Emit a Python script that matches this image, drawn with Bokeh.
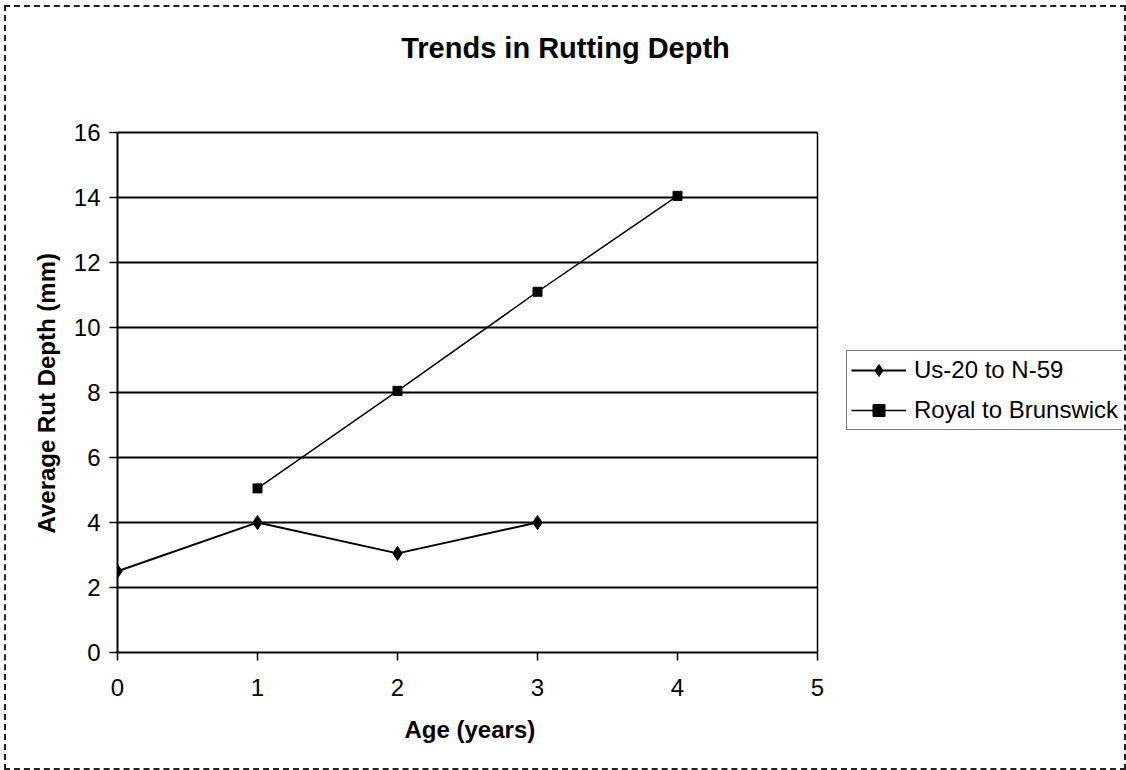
from bokeh.plotting import figure
from bokeh.models import (Range1d, FixedTicker, Legend, LegendItem, Label, Title,
                          InlineStyleSheet)
from bokeh.embed import file_html
from bokeh.resources import INLINE

# ---- data ----
title_text = "Trends in Rutting Depth"
x_label = "Age (years)"
y_label = "Average Rut Depth (mm)"

us_name = "Us-20 to N-59"
us_age = [0, 1, 2, 3]
us_depth = [2.5, 4.0, 3.05, 4.0]

royal_name = "Royal to Brunswick"
royal_age = [1, 2, 3, 4]
royal_depth = [5.05, 8.05, 11.1, 14.05]

x_ticks = [0, 1, 2, 3, 4, 5]
y_ticks = [0, 2, 4, 6, 8, 10, 12, 14, 16]

FONT = "Liberation Sans"

# plot area spans x 0..5, y 0..16; the frame is extended (same scale) to hold
# the title above and the legend at the right without clipping.
X_MIN, X_MAX = x_ticks[0], x_ticks[-1]
Y_MIN, Y_MAX = y_ticks[0], y_ticks[-1]
X_END = X_MAX + 305 / 140.0
Y_END = 642 / 32.5

p = figure(width=1126, height=770, output_backend="svg", toolbar_location=None,
           x_range=Range1d(X_MIN, X_END), y_range=Range1d(Y_MIN, Y_END),
           min_border_left=117, min_border_right=4,
           min_border_top=10, min_border_bottom=118)
p.background_fill_color = "white"
p.border_fill_color = "white"
p.outline_line_color = None
p.stylesheets = [InlineStyleSheet(css="""
:host { position: relative; }
:host::after {
  content: ""; position: absolute; left: 4px; top: 5px; right: 0px; bottom: 0px;
  border: 2px dashed #222; pointer-events: none; z-index: 1000;
}
""")]

# axes
for ax in (p.xaxis, p.yaxis):
    ax.axis_line_color = "black"
    ax.axis_line_width = 2
    ax.major_tick_line_color = "black"
    ax.major_tick_line_width = 1.5
    ax.major_tick_in = 0
    ax.major_tick_out = 8
    ax.minor_tick_line_color = None
    ax.major_label_text_font = FONT
    ax.major_label_text_font_size = "24px"
    ax.major_label_text_color = "black"

p.xaxis.ticker = FixedTicker(ticks=x_ticks)
p.yaxis.ticker = FixedTicker(ticks=y_ticks)
p.xaxis.bounds = (X_MIN, X_MAX)
p.yaxis.bounds = (Y_MIN, Y_MAX)
p.xaxis.major_label_standoff = 18
p.yaxis.major_label_standoff = 9

# axis titles, centred on the 0..5 / 0..16 plot area
xt = Title(text=x_label, align="left", offset=287, vertical_align="top",
           standoff=34, text_font=FONT, text_font_size="24px",
           text_font_style="bold", text_color="black")
p.add_layout(xt, "below")
yt = Title(text=y_label, align="left", offset=119, vertical_align="bottom",
           standoff=22, text_font=FONT, text_font_size="24px",
           text_font_style="bold", text_color="black")
p.add_layout(yt, "left")

p.xgrid.grid_line_color = None
p.ygrid.grid_line_color = None

# horizontal gridlines and right border of the plot area
grid_y = y_ticks[1:]
p.segment(x0=[X_MIN] * len(grid_y), x1=[X_MAX] * len(grid_y), y0=grid_y, y1=grid_y,
          line_color="black", line_width=2)
p.segment(x0=[X_MAX], x1=[X_MAX], y0=[Y_MIN], y1=[Y_MAX],
          line_color="black", line_width=1.5)

# series
l1 = p.line(us_age, us_depth, line_color="black", line_width=2)
m1 = p.scatter(us_age, us_depth, marker="diamond", size=14,
               fill_color="black", line_color="black")
l2 = p.line(royal_age, royal_depth, line_color="black", line_width=1.5)
m2 = p.scatter(royal_age, royal_depth, marker="square", size=9,
               fill_color="black", line_color="black")

legend = Legend(items=[LegendItem(label=us_name, renderers=[l1, m1]),
                       LegendItem(label=royal_name, renderers=[l2, m2])],
                location=(729, 222), orientation="vertical")
legend.label_text_font = FONT
legend.label_text_font_size = "24px"
legend.label_text_color = "black"
legend.glyph_width = 55
legend.glyph_height = 30
legend.label_height = 30
legend.label_standoff = 8
legend.spacing = 10
legend.padding = 4
legend.margin = 0
legend.border_line_color = "black"
legend.border_line_width = 1.5
legend.background_fill_color = "white"
legend.background_fill_alpha = 1
p.add_layout(legend, "center")

title = Label(x=3.2, y=18.585, text=title_text, text_align="center",
              text_baseline="middle", text_font=FONT, text_font_size="29px",
              text_font_style="bold", text_color="black")
p.add_layout(title)

open("out.html", "w").write(file_html(p, INLINE))
